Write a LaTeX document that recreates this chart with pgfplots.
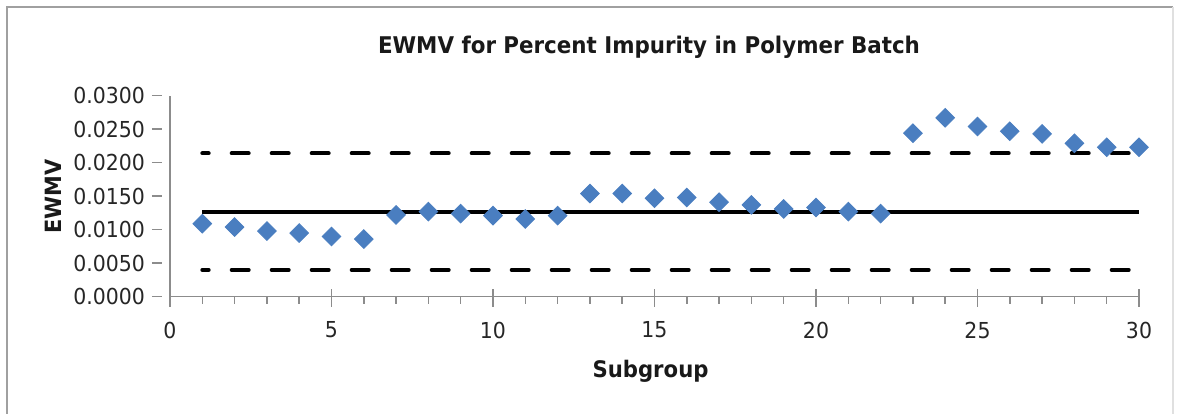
\documentclass[border=0pt]{standalone}
\usepackage{fontspec}
\setmainfont{DejaVu Sans}[FakeStretch=0.93]
\usepackage{pgfplots}
\pgfplotsset{compat=1.18}
\definecolor{ewblue}{HTML}{4A7EC0}
\definecolor{axgray}{HTML}{8C8C8C}
\definecolor{framegray}{HTML}{A0A0A0}

\pgfplotstableread{
n ewmv
1 0.0109
2 0.0104
3 0.0098
4 0.0095
5 0.0090
6 0.0086
7 0.0122
8 0.0127
9 0.0124
10 0.0121
11 0.0116
12 0.0121
13 0.0154
14 0.0154
15 0.0147
16 0.0148
17 0.0141
18 0.0137
19 0.0131
20 0.0133
21 0.0127
22 0.0124
23 0.0244
24 0.0267
25 0.0254
26 0.0247
27 0.0243
28 0.0229
29 0.0223
30 0.0223
}\ewmvdata

\begin{document}
\begin{tikzpicture}
\useasboundingbox (-85pt,-58.15pt) rectangle (503.5pt,148.35pt);
% chart frame (bottom edge is cut off in the original)
\draw[framegray, line width=1.2pt] (-81.5pt,-70pt) -- (-81.5pt,144.85pt) -- (501.5pt,144.85pt);
\draw[black!12, line width=0.6pt] (501.5pt,144.85pt) -- (501.5pt,-70pt);
\begin{axis}[
  at={(0pt,0pt)}, anchor=south west,
  width=484.5pt, height=100.5pt, scale only axis,
  xmin=0, xmax=30, ymin=0, ymax=0.03,
  axis x line=bottom, axis y line=left,
  axis line style={-, axgray, line width=0.75pt},
  xtick={0,5,...,30}, minor x tick num=4,
  ytick={0,0.005,0.01,0.015,0.02,0.025,0.03},
  tick align=outside, major tick length=9pt, minor tick length=3.5pt,
  tick style={axgray, line width=0.75pt},
  major x tick style={yshift=4pt},
  ytick style={dash pattern=on 5pt off 20pt},
  scaled y ticks=false,
  yticklabel style={/pgf/number format/fixed, /pgf/number format/fixed zerofill,
    /pgf/number format/precision=4},
  /pgf/number format/assume math mode=true,
  ticklabel style={font=\fontsize{11}{13}\selectfont, text=black!85},
  every axis title shift=0pt,
  title={EWMV for Percent Impurity in Polymer Batch},
  title style={at={(axis description cs:0.4943,1.2124)}, anchor=base,
    font=\bfseries\fontsize{11.5}{13}\selectfont, text=black!90},
  xlabel={Subgroup},
  xlabel style={at={(axis description cs:0.4959,-0.401)}, anchor=base,
    font=\bfseries\fontsize{11.4}{13}\selectfont, text=black!90},
  ylabel={EWMV},
  ylabel style={at={(axis description cs:-0.1115,0.5)}, anchor=base,
    font=\bfseries\fontsize{11.2}{13}\selectfont, text=black!90},
  clip=false,
]
% control limits
\addplot[black, line width=2pt, line cap=round, dash pattern=on 8.5pt off 11.5pt, dash phase=5.3pt]
  coordinates {(1,0.0214) (30,0.0214)};
\addplot[black, line width=2pt]
  coordinates {(1,0.0126) (30,0.0126)};
\addplot[black, line width=2pt, line cap=round, dash pattern=on 8.5pt off 11.5pt, dash phase=5.3pt]
  coordinates {(1,0.0040) (30,0.0040)};
% EWMV values
\addplot[only marks, mark=square*, mark size=3.3pt,
  mark options={rotate=45, fill=ewblue, draw=ewblue, line width=0.4pt}]
  table[x=n, y=ewmv] {\ewmvdata};
\end{axis}
\end{tikzpicture}
\end{document}
